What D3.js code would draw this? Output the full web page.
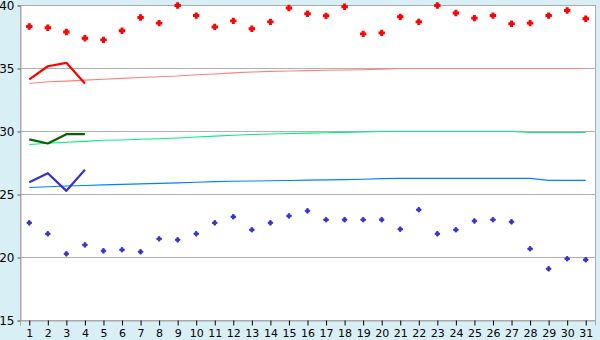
<!DOCTYPE html>
<html><head><meta charset="utf-8">
<script src="https://cdn.jsdelivr.net/npm/d3@7"></script>
<style>
html,body{margin:0;padding:0;background:#d9eff6;}
svg{display:block;}
text{font-family:"DejaVu Sans",Verdana,sans-serif;font-size:11px;fill:#000;}
</style></head><body>
<svg id="chart" width="600" height="340"></svg>
<script>
const days = [1,2,3,4,5,6,7,8,9,10,11,12,13,14,15,16,17,18,19,20,21,22,23,24,25,26,27,28,29,30,31];
const yTicks = [15,20,25,30,35,40];
const maxTemps = [38.33,38.23,37.9,37.4,37.27,38.0,39.05,38.6,40.0,39.2,38.3,38.78,38.15,38.7,39.8,39.34,39.18,39.9,37.75,37.83,39.1,38.7,40.0,39.4,39.0,39.2,38.55,38.6,39.2,39.6,38.95];
const minTemps = [22.75,21.88,20.29,21.0,20.53,20.61,20.45,21.48,21.4,21.88,22.75,23.23,22.2,22.75,23.3,23.7,23.0,23.0,23.0,23.0,22.25,23.79,21.88,22.2,22.9,23.0,22.83,20.69,19.1,19.9,19.82];
const curMax = [34.13,35.18,35.45,33.81];
const curMean = [29.37,29.05,29.79,29.79];
const curMin = [25.98,26.69,25.29,26.96];
const normMax = [33.81,33.95,34.0,34.08,34.15,34.22,34.28,34.34,34.4,34.5,34.56,34.65,34.72,34.77,34.8,34.83,34.86,34.88,34.9,34.95,35.0,35.0,35.0,35.0,35.0,35.0,35.0,35.0,35.0,35.0,35.0];
const normMean = [28.97,29.07,29.15,29.22,29.3,29.33,29.38,29.43,29.48,29.56,29.63,29.7,29.76,29.8,29.84,29.87,29.9,29.93,29.96,30.0,30.0,30.0,30.0,30.0,30.0,30.0,30.0,29.92,29.92,29.92,29.92];
const normMin = [25.55,25.62,25.68,25.72,25.76,25.8,25.84,25.88,25.92,25.97,26.02,26.05,26.07,26.09,26.11,26.14,26.16,26.18,26.21,26.26,26.28,26.28,26.28,26.28,26.28,26.28,26.28,26.28,26.12,26.12,26.12];

const L = 20.5, R = 595.5, T = 5.5, B = 320.5;
const svg = d3.select("#chart");
const x = d3.scalePoint().domain(days).range([20, 595]).padding(0.5);
const y = d3.scaleLinear().domain([15, 40]).range([B, T]);

svg.append("rect").attr("x", L).attr("y", T).attr("width", R - L).attr("height", B - T)
  .attr("fill", "#fff").attr("stroke", "#aaaaaa").attr("stroke-width", 1);

// gridlines
svg.append("g").selectAll("line").data(yTicks.filter(d => d > 15 && d < 40)).join("line")
  .attr("x1", L).attr("x2", R).attr("y1", d => y(d)).attr("y2", d => y(d))
  .attr("stroke", "#b0b0b0").attr("stroke-width", 1);

// y axis
const yAxis = d3.axisLeft(y).tickValues(yTicks).tickSize(3).tickPadding(3).tickFormat(d3.format("d"));
const gy = svg.append("g").attr("transform", `translate(${L},0)`).call(yAxis);
gy.select(".domain").attr("stroke", "#aaaaaa");
gy.selectAll(".tick line").attr("stroke", "#555");
gy.selectAll("text").style("font-size", "12px");

// x axis
const xAxis = d3.axisBottom(x).tickSize(5).tickPadding(4);
const gx = svg.append("g").attr("transform", `translate(0,${B})`).call(xAxis);
gx.select(".domain").attr("stroke", "#aaaaaa");
gx.selectAll(".tick line").attr("stroke", "#000");

const line = d3.line().x((d, i) => x(days[i])).y(d => y(d));

function drawLine(data, color, w) {
  svg.append("path").datum(data).attr("d", line).attr("fill", "none")
    .attr("stroke", color).attr("stroke-width", w).attr("stroke-linejoin", "round");
}
drawLine(normMax, "#ff8080", 1.1);
drawLine(normMean, "#00f080", 1.1);
drawLine(normMin, "#0080ff", 1.1);
drawLine(curMax, "#ff0000", 2.2);
drawLine(curMean, "#006400", 2.2);
drawLine(curMin, "#3333cc", 2.2);

const sym = s => d3.symbol().type(d3.symbolCross).size(s)();
svg.append("g").selectAll("path").data(maxTemps).join("path")
  .attr("d", sym(15)).attr("fill", "#ff0000").attr("stroke", "#ff0000").attr("stroke-width", 1.2)
  .attr("transform", (d, i) => `translate(${x(days[i])},${y(d)})`);
svg.append("g").selectAll("path").data(minTemps).join("path")
  .attr("d", sym(11)).attr("fill", "#3333cc").attr("stroke", "#3333cc").attr("stroke-width", 1)
  .attr("transform", (d, i) => `translate(${x(days[i])},${y(d)})`);
</script>
</body></html>
